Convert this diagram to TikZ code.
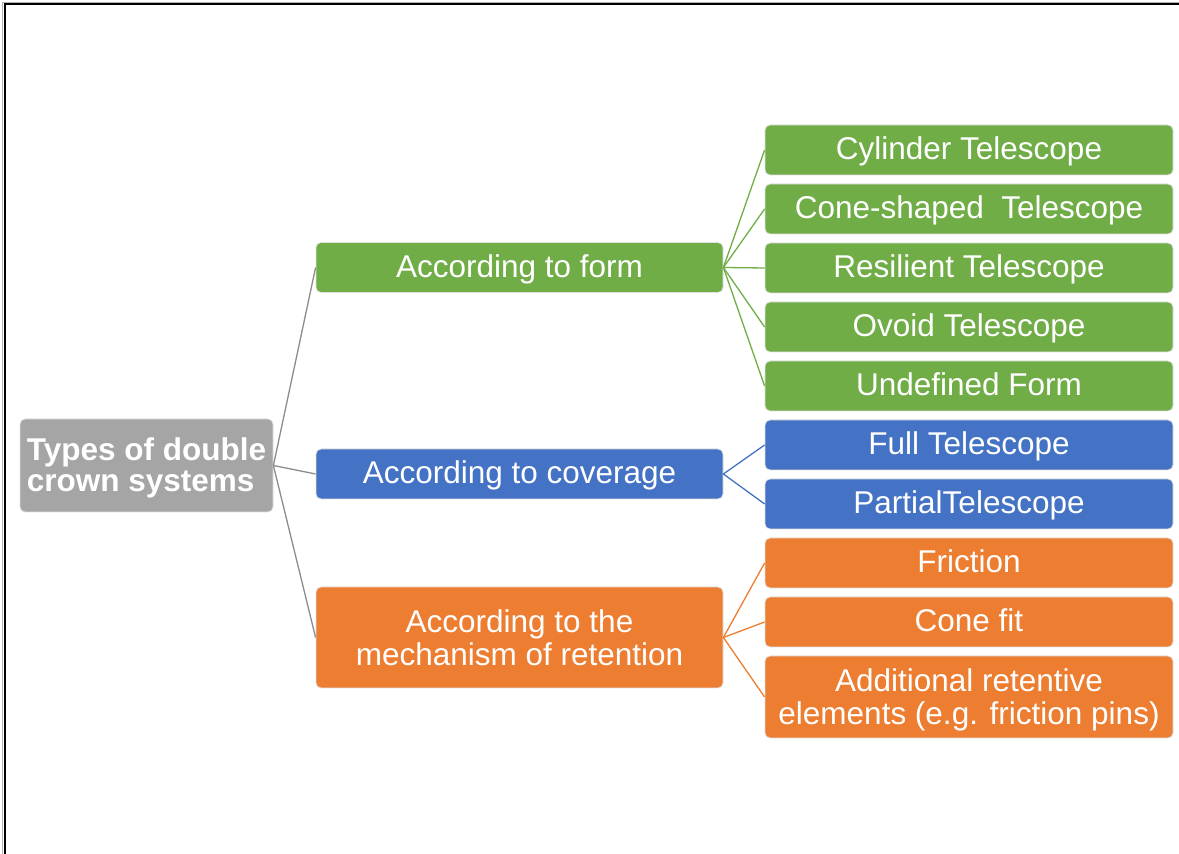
\documentclass[tikz,border=0pt]{standalone}
\usepackage{fontspec}
\setmainfont{Liberation Sans}
\usetikzlibrary{positioning}
\definecolor{grn}{HTML}{70AD47}
\definecolor{blu}{HTML}{4472C4}
\definecolor{org}{HTML}{ED7D31}
\definecolor{gry}{HTML}{A5A5A5}
\begin{document}
\begin{tikzpicture}[x=1pt, y=1pt, node distance=59pt]
	\tikzset{b/.style={draw=black!12, line width=0.8pt, rounded corners=5pt, text=white, align=center,
			font=\fontsize{31.5}{33}\selectfont, inner sep=0pt},
		one/.style={b, minimum width=407pt, minimum height=50pt, text height=24pt, text depth=4.6pt},
		two/.style={b, minimum width=408pt, minimum height=50pt, text height=24pt, text depth=4.6pt},
		c/.style={line width=1.3pt}};

	\useasboundingbox (0,0) rectangle (1179,854);
	\draw[black!30, line width=1pt] (2.5,0) -- (2.5,851.5) -- (1179,851.5);
	\draw[line width=2pt] (5,0) -- (5,850) -- (1179,850);

	\node[b, fill=gry, minimum width=253pt, minimum height=93pt, align=left, text depth=1pt,
		font=\fontsize{31.5}{31}\selectfont\bfseries] (root) at (146.5,388.5) {Types of double\\crown systems};

	\node[one, fill=grn] (form) at (519.5,586.5) {According to form};
	\node[one, fill=blu] (cov) at (519.5,380) {According to coverage};
	\node[b, fill=org, minimum width=407pt, minimum height=101pt, text depth=0pt] (mech) at (519.5,216.5) {According to the\\mechanism of retention};

	\node[two, fill=grn] (cyl) at (969,704) {Cylinder Telescope};
	\node[two, fill=grn, below of=cyl] (cone) {Cone-shaped\ \ Telescope};
	\node[two, fill=grn, below of=cone] (res) {Resilient Telescope};
	\node[two, fill=grn, below of=res] (ovo) {Ovoid Telescope};
	\node[two, fill=grn, below of=ovo] (und) {Undefined Form};
	\node[two, fill=blu, below of=und] (full) {Full Telescope};
	\node[two, fill=blu, below of=full] (part) {PartialTelescope};
	\node[two, fill=org, below of=part] (fric) {Friction};
	\node[two, fill=org, below of=fric] (cfit) {Cone fit};
	\node[b, fill=org, minimum width=408pt, minimum height=82pt, text depth=0pt, below of=cfit, node distance=75pt] (add) {Additional retentive\\elements (e.g. friction pins)};

	\draw[c, gry!85!black] (root.east) -- (form.west);
	\draw[c, gry!85!black] (root.east) -- (cov.west);
	\draw[c, gry!85!black] (root.east) -- (mech.west);

	\draw[c, grn] (form.east) -- (cyl.west);
	\draw[c, grn] (form.east) -- (cone.west);
	\draw[c, grn] (form.east) -- (res.west);
	\draw[c, grn] (form.east) -- (ovo.west);
	\draw[c, grn] (form.east) -- (und.west);
	\draw[c, blu] (cov.east) -- (full.west);
	\draw[c, blu] (cov.east) -- (part.west);
	\draw[c, org] (mech.east) -- (fric.west);
	\draw[c, org] (mech.east) -- (cfit.west);
	\draw[c, org] (mech.east) -- (add.west);
\end{tikzpicture}
\end{document}
